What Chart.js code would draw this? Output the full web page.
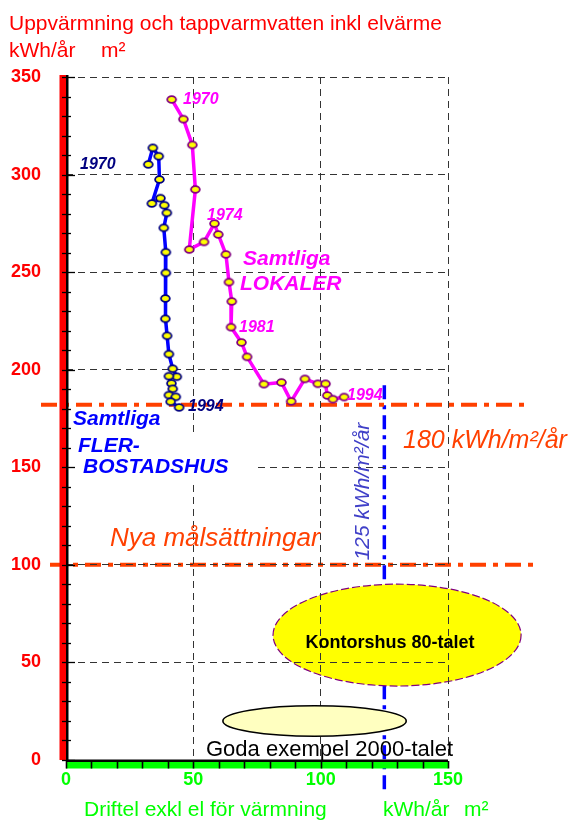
<!DOCTYPE html>
<html>
<head>
<meta charset="utf-8">
<script src="https://cdn.jsdelivr.net/npm/chart.js@4.4.1/dist/chart.umd.min.js"></script>
<style>
  html, body { margin: 0; padding: 0; background: #fff; }
  canvas { display: block; }
</style>
</head>
<body>
<canvas id="energyChart" width="575" height="821"></canvas>
<script>
// Samtliga lokaler 1970-1994: driftel (x) mot uppvärmning (y)
const lokalerX = [41.5, 46.1, 49.6, 50.8, 48.4, 54.2, 58.3, 59.8, 62.8, 64.0, 65.1, 64.8,
  68.9, 71.1, 77.7, 84.6, 88.4, 93.8, 98.9, 101.9, 102.6, 104.8, 109.2];
const lokalerY = [338.5, 328.4, 315.2, 292.4, 261.6, 265.5, 274.9, 269.3, 259.1, 244.9, 235.0, 221.8,
  214.0, 206.6, 192.6, 193.5, 183.8, 195.3, 192.8, 192.8, 186.8, 184.9, 186.0];

// Samtliga flerbostadshus 1970-1994
const flerX = [32.3, 34.1, 36.4, 36.7, 33.7, 37.1, 38.6, 39.6, 38.4, 39.2, 39.2, 39.0,
  39.0, 39.7, 40.4, 41.9, 43.5, 40.4, 41.4, 41.9, 40.4, 43.1, 41.1, 44.4];
const flerY = [305.2, 313.7, 309.4, 297.5, 285.2, 287.9, 284.3, 280.4, 272.7, 260.2, 249.6, 236.5,
  226.1, 217.4, 208.0, 200.5, 196.4, 196.7, 193.0, 190.2, 187.0, 186.1, 183.6, 180.7];

const xTicks = [0, 50, 100, 150];
const yTicks = [0, 50, 100, 150, 200, 250, 300, 350];

// nya målsättningar (orange streckprickade linjer) och 125-linjen
const malNivaer = [182, 100];
const malDriftel = 125;

const FONT = "'Liberation Sans', Arial, sans-serif";

function marker(stroke) {
  const c = document.createElement('canvas');
  c.width = 13; c.height = 11;
  const g = c.getContext('2d');
  g.beginPath();
  g.ellipse(6.5, 5.5, 4.4, 3.4, 0, 0, Math.PI * 2);
  g.fillStyle = '#ffff00';
  g.fill();
  g.lineWidth = 1.8;
  g.strokeStyle = stroke;
  g.stroke();
  return c;
}

function dashLine(ctx, x1, y1, x2, y2, color, width, dash) {
  ctx.save();
  ctx.strokeStyle = color;
  ctx.lineWidth = width;
  ctx.setLineDash(dash);
  ctx.beginPath();
  ctx.moveTo(x1, y1);
  ctx.lineTo(x2, y2);
  ctx.stroke();
  ctx.restore();
}

function ellipse(ctx, cx, cy, rx, ry, fill, stroke, lw, dash) {
  ctx.save();
  ctx.beginPath();
  ctx.ellipse(cx, cy, rx, ry, 0, 0, Math.PI * 2);
  ctx.fillStyle = fill;
  ctx.fill();
  ctx.lineWidth = lw;
  ctx.strokeStyle = stroke;
  ctx.setLineDash(dash || []);
  ctx.stroke();
  ctx.restore();
}

function text(ctx, str, x, y, font, color, align) {
  ctx.save();
  ctx.font = font;
  ctx.fillStyle = color;
  ctx.textAlign = align || 'left';
  ctx.textBaseline = 'alphabetic';
  ctx.fillText(str, x, y);
  ctx.restore();
}

const annotations = {
  id: 'annotations',
  beforeDraw(chart) {
    const { ctx, scales: { x, y } } = chart;
    ctx.save();
    ctx.fillStyle = '#fff';
    ctx.fillRect(0, 0, chart.width, chart.height);
    ctx.restore();

    const bx = x.getPixelForValue(malDriftel);
    dashLine(ctx, bx, y.getPixelForValue(192), bx, 795, '#0000ff', 3.5, [14, 6, 4, 6]);
    dashLine(ctx, 41, y.getPixelForValue(malNivaer[0]), 524, y.getPixelForValue(malNivaer[0]), '#ff4000', 4, [16, 7, 5, 7]);
    dashLine(ctx, 50, y.getPixelForValue(malNivaer[1]), 534, y.getPixelForValue(malNivaer[1]), '#ff4000', 4, [16, 7, 5, 7]);

    // Kontorshus 80-talet
    const kx = x.getPixelForValue(130), ky = y.getPixelForValue(64);
    ellipse(ctx, kx, ky, x.getPixelForValue(48.7) - x.getPixelForValue(0),
      y.getPixelForValue(0) - y.getPixelForValue(26.1), '#ffff00', '#800080', 1.2, [8, 3]);
  },
  beforeDatasetsDraw(chart) {
    const { ctx, scales: { x, y } } = chart;
    // Goda exempel 2000-talet
    ellipse(ctx, x.getPixelForValue(97.6), y.getPixelForValue(20),
      x.getPixelForValue(36) - x.getPixelForValue(0), y.getPixelForValue(0) - y.getPixelForValue(7.8),
      '#ffffc0', '#000', 1.6);
    // textruta bakom flerbostadshus-etiketten
    ctx.save();
    ctx.fillStyle = '#fff';
    ctx.fillRect(70, 433, 183, 50);
    ctx.restore();
  },
  afterDraw(chart) {
    const { ctx, chartArea: a, scales: { x, y } } = chart;

    // röd y-axel
    ctx.save();
    ctx.fillStyle = '#ff0000';
    ctx.fillRect(a.left - 6.5, a.top - 2, 6.5, a.bottom - a.top + 2);
    ctx.fillStyle = '#000';
    ctx.fillRect(a.left, a.top - 2, 2.5, a.bottom - a.top + 4);
    ctx.strokeStyle = '#000';
    ctx.lineWidth = 1.3;
    for (let v = 0; v <= 350; v += 10) {
      const p = Math.round(y.getPixelForValue(v)) + 0.5;
      ctx.beginPath();
      ctx.moveTo(a.left - 4, p);
      ctx.lineTo(a.left + (v % 50 === 0 ? 9 : 5), p);
      ctx.stroke();
    }
    // grön x-axel
    ctx.fillStyle = '#00ff00';
    ctx.fillRect(a.left, a.bottom + 2, a.right - a.left, 6.5);
    ctx.fillStyle = '#000';
    ctx.fillRect(a.left, a.bottom - 0.5, a.right - a.left, 2.5);
    ctx.lineWidth = 1.6;
    for (let v = 0; v <= 150; v += 10) {
      const p = Math.round(x.getPixelForValue(v)) + 0.5;
      ctx.beginPath();
      ctx.moveTo(p, a.bottom + 1);
      ctx.lineTo(p, a.bottom + 8.5);
      ctx.stroke();
    }
    ctx.restore();

    // rubriker
    text(ctx, 'Uppvärmning och tappvarmvatten inkl elvärme', 9, 29.5, '21px ' + FONT, '#ff0000');
    text(ctx, 'kWh/år', 9, 56.5, '21px ' + FONT, '#ff0000');
    text(ctx, 'm²', 101, 56.5, '21px ' + FONT, '#ff0000');
    text(ctx, 'Driftel exkl el för värmning', 84, 816, '21px ' + FONT, '#00ff00');
    text(ctx, 'kWh/år', 383, 816, '21px ' + FONT, '#00ff00');
    text(ctx, 'm²', 464, 816, '21px ' + FONT, '#00ff00');

    // årtal och serienamn
    const by = 'italic bold 16px ' + FONT;
    text(ctx, '1970', 183, 104, by, '#ff00ff');
    text(ctx, '1974', 207, 220, by, '#ff00ff');
    text(ctx, '1981', 239, 332, by, '#ff00ff');
    text(ctx, '1994', 347, 400, by, '#ff00ff');
    text(ctx, '1970', 80, 169, by, '#000080');
    text(ctx, '1994', 188, 410.5, by, '#000080');
    const bl = 'italic bold 21px ' + FONT;
    text(ctx, 'Samtliga', 243, 265, bl, '#ff00ff');
    text(ctx, 'LOKALER', 240, 290, bl, '#ff00ff');
    text(ctx, 'Samtliga', 73, 425, bl, '#0000ff');
    text(ctx, 'FLER-', 78, 451.7, bl, '#0000ff');
    text(ctx, 'BOSTADSHUS', 83, 473.3, bl, '#0000ff');

    // målsättningar
    text(ctx, '180 kWh/m²/år', 403, 448, 'italic 25px ' + FONT, '#ff4000');
    text(ctx, 'Nya målsättningar', 110, 546, 'italic 26px ' + FONT, '#ff4000');
    ctx.save();
    ctx.translate(363, 491.5);
    ctx.rotate(-Math.PI / 2);
    ctx.font = 'italic 21px ' + FONT;
    ctx.fillStyle = '#4040c8';
    ctx.textAlign = 'center';
    ctx.textBaseline = 'middle';
    ctx.fillText('125 kWh/m²/år', 0, 0);
    ctx.restore();

    text(ctx, 'Kontorshus 80-talet', 390, 648, 'bold 18px ' + FONT, '#000', 'center');
    text(ctx, 'Goda exempel 2000-talet', 206, 756, '22px ' + FONT, '#000');
  }
};

const ctx = document.getElementById('energyChart').getContext('2d');
const energyChart = new Chart(ctx, {
  type: 'scatter',
  data: {
    datasets: [
      {
        label: 'Samtliga LOKALER',
        data: lokalerX.map((v, i) => ({ x: v, y: lokalerY[i] })),
        showLine: true,
        borderColor: '#ff00ff',
        borderWidth: 3.5,
        pointStyle: marker('#800080'),
        pointRadius: 5,
      },
      {
        label: 'Samtliga FLERBOSTADSHUS',
        data: flerX.map((v, i) => ({ x: v, y: flerY[i] })),
        showLine: true,
        borderColor: '#0000ff',
        borderWidth: 3.5,
        pointStyle: marker('#000080'),
        pointRadius: 5,
      },
    ],
  },
  options: {
    responsive: false,
    animation: false,
    devicePixelRatio: 1,
    layout: { padding: { left: 6, right: 127, top: 77, bottom: 21 } },
    plugins: {
      legend: { display: false },
      tooltip: { enabled: false },
    },
    scales: {
      x: {
        type: 'linear',
        min: 0,
        max: 150,
        afterBuildTicks: (s) => { s.ticks = xTicks.map((v) => ({ value: v })); },
        afterFit: (s) => { s.height = 40; },
        grid: { color: '#333', lineWidth: 1, drawTicks: false },
        border: { display: false, dash: [7, 5] },
        ticks: {
          color: '#00ff00',
          padding: 9,
          maxRotation: 0,
          font: { family: FONT, size: 18, weight: 'bold' },
        },
      },
      y: {
        type: 'linear',
        min: 0,
        max: 350,
        afterBuildTicks: (s) => { s.ticks = yTicks.map((v) => ({ value: v })); },
        afterFit: (s) => { s.width = 60; },
        grid: { color: '#333', lineWidth: 1, drawTicks: false },
        border: { display: false, dash: [7, 5] },
        ticks: {
          color: '#ff0000',
          padding: 25,
          font: { family: FONT, size: 18, weight: 'bold' },
        },
      },
    },
  },
  plugins: [annotations],
});
</script>
</body>
</html>
